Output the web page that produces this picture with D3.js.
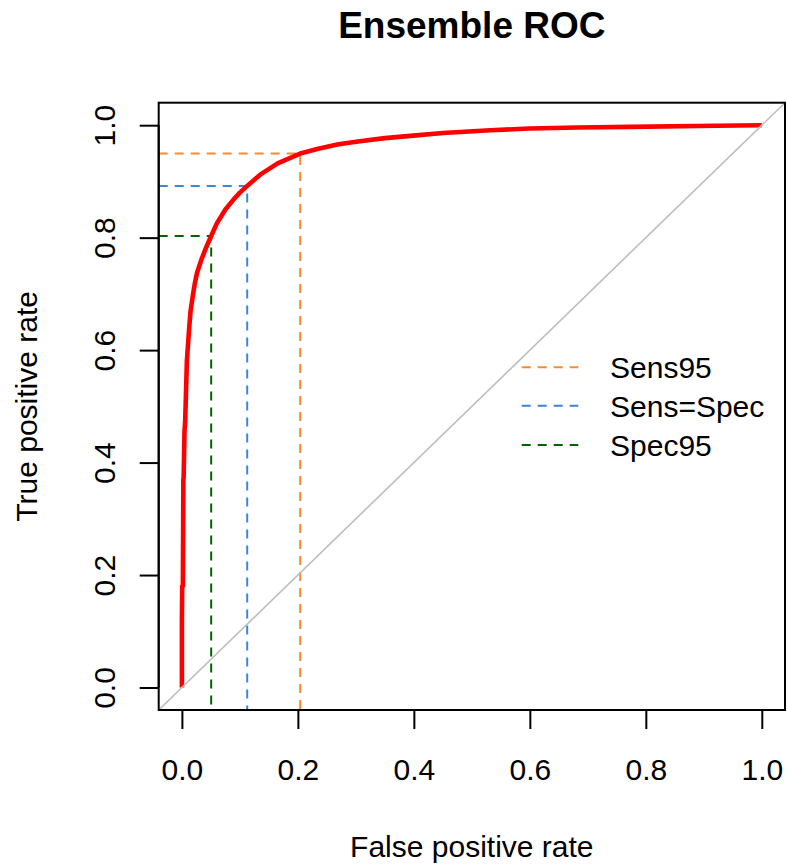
<!doctype html>
<html lang="en">
<head>
<meta charset="UTF-8">
<title>Ensemble ROC</title>
<style type="text/css">
body {
  margin: 0;
  padding: 0;
  background: #fff;
}
text {
  font-family: 'Liberation Sans', Arial, sans-serif;
}
</style>
<script type="text/javascript" src="https://cdn.jsdelivr.net/npm/d3@7"></script>
</head>
<body>
<div id="chart"></div>
<script type="text/javascript">

// ROC curve
var fpr = [0, 0, 0.0005, 0.0017, 0.0025, 0.003, 0.0045, 0.0057, 0.0086, 0.0126, 0.015, 0.019, 0.022, 0.026, 0.034,
  0.042, 0.0505, 0.06, 0.075, 0.09, 0.1, 0.1126, 0.135, 0.165, 0.204, 0.235, 0.27, 0.31, 0.35, 0.394,
  0.45, 0.532, 0.6, 0.681, 0.773, 0.922, 1];
var tpr = [0, 0.118, 0.18, 0.181, 0.37, 0.372, 0.456, 0.474, 0.581, 0.640, 0.67, 0.698, 0.717, 0.737, 0.762,
  0.783, 0.803, 0.825, 0.85, 0.869, 0.88, 0.892, 0.912, 0.932, 0.9495, 0.958, 0.966, 0.972, 0.977, 0.981,
  0.986, 0.991, 0.994, 0.996, 0.997, 0.999, 1];

// operating points
var cutNames = ['Sens95', 'Sens=Spec', 'Spec95'];
var cutFpr = [0.204, 0.1126, 0.0505];
var cutTpr = [0.9495, 0.892, 0.803];
var cutColors = ['#FA8A2C', '#3C84DC', '#006400'];

var ticks = [0, 0.2, 0.4, 0.6, 0.8, 1.0];

function init() {
  var w = 787, h = 865;
  var left = 158.7, right = 785, top = 102.7, bottom = 710;

  var svg = d3.select('#chart').append('svg')
    .attr('width', w)
    .attr('height', h);

  // R style: 4% padding on both axes
  var x = d3.scaleLinear().domain([-0.04, 1.04]).range([left, right]);
  var y = d3.scaleLinear().domain([-0.04, 1.04]).range([bottom, top]);

  svg.append('clipPath').attr('id', 'plotclip')
    .append('rect')
    .attr('x', left).attr('y', top)
    .attr('width', right - left).attr('height', bottom - top);

  var plot = svg.append('g').attr('clip-path', 'url(#plotclip)');

  // dashed guide lines
  cutNames.forEach(function(name, i) {
    plot.append('path')
      .attr('d', d3.line()([[x(-0.04), y(cutTpr[i])], [x(cutFpr[i]), y(cutTpr[i])], [x(cutFpr[i]), y(-0.04)]]))
      .attr('fill', 'none')
      .attr('stroke', cutColors[i])
      .attr('stroke-width', 2)
      .attr('stroke-dasharray', '9,7');
  });

  var pts = fpr.map(function(f, i) { return [f, tpr[i]]; });
  var line = d3.line()
    .x(function(d) { return x(d[0]); })
    .y(function(d) { return y(d[1]); });

  plot.append('path')
    .datum(pts)
    .attr('d', line)
    .attr('fill', 'none')
    .attr('stroke', '#FF0000')
    .attr('stroke-width', 4.6)
    .attr('stroke-linejoin', 'round');

  // chance diagonal
  plot.append('path')
    .datum([[-0.04, -0.04], [1.04, 1.04]])
    .attr('d', line)
    .attr('stroke', '#BEBEBE')
    .attr('stroke-width', 1.6);

  // box
  svg.append('rect')
    .attr('x', left).attr('y', top)
    .attr('width', right - left).attr('height', bottom - top)
    .attr('fill', 'none')
    .attr('stroke', '#000')
    .attr('stroke-width', 2);

  // x axis
  var xAxis = svg.append('g')
    .attr('transform', 'translate(0,' + bottom + ')')
    .call(d3.axisBottom(x).tickValues(ticks).tickFormat(d3.format('.1f')).tickSize(19).tickPadding(28));
  xAxis.select('.domain')
    .attr('d', 'M' + x(0) + ',0H' + x(1))
    .attr('stroke-width', 2);
  xAxis.selectAll('.tick line').attr('stroke-width', 2);
  xAxis.selectAll('.tick text')
    .attr('font-size', 30)
    .attr('font-family', "'Liberation Sans', Arial, sans-serif")
    .attr('fill', '#000')
    .attr('dy', null)
    .attr('y', 70);

  // y axis, rotated labels like R's default las=0
  var yAxis = svg.append('g')
    .attr('transform', 'translate(' + left + ',0)')
    .call(d3.axisLeft(y).tickValues(ticks).tickFormat(d3.format('.1f')).tickSize(19));
  yAxis.select('.domain')
    .attr('d', 'M0,' + y(0) + 'V' + y(1))
    .attr('stroke-width', 2);
  yAxis.selectAll('.tick line').attr('stroke-width', 2);
  yAxis.selectAll('.tick text')
    .attr('font-size', 30)
    .attr('font-family', "'Liberation Sans', Arial, sans-serif")
    .attr('fill', '#000')
    .attr('x', null)
    .attr('dy', null)
    .attr('text-anchor', 'middle')
    .attr('transform', 'translate(' + (115 - left) + ',0) rotate(-90)');

  // titles
  svg.append('text')
    .attr('x', (left + right) / 2)
    .attr('y', 38)
    .attr('text-anchor', 'middle')
    .attr('font-size', 37)
    .attr('font-weight', 'bold')
    .text('Ensemble ROC');

  svg.append('text')
    .attr('x', (left + right) / 2)
    .attr('y', 857)
    .attr('text-anchor', 'middle')
    .attr('font-size', 30)
    .text('False positive rate');

  svg.append('text')
    .attr('transform', 'translate(37,' + ((top + bottom) / 2) + ') rotate(-90)')
    .attr('text-anchor', 'middle')
    .attr('font-size', 30)
    .text('True positive rate');

  // legend
  var legendY = [367.3, 405.7, 445];
  var legend = svg.append('g');
  cutNames.forEach(function(name, i) {
    legend.append('line')
      .attr('x1', 521.7).attr('x2', 578.3)
      .attr('y1', legendY[i]).attr('y2', legendY[i])
      .attr('stroke', cutColors[i])
      .attr('stroke-width', 2)
      .attr('stroke-dasharray', '9,7');
    legend.append('text')
      .attr('x', 610)
      .attr('y', legendY[i] + 11)
      .attr('font-size', 30)
      .text(name);
  });
}

init();
</script>
</body>
</html>
